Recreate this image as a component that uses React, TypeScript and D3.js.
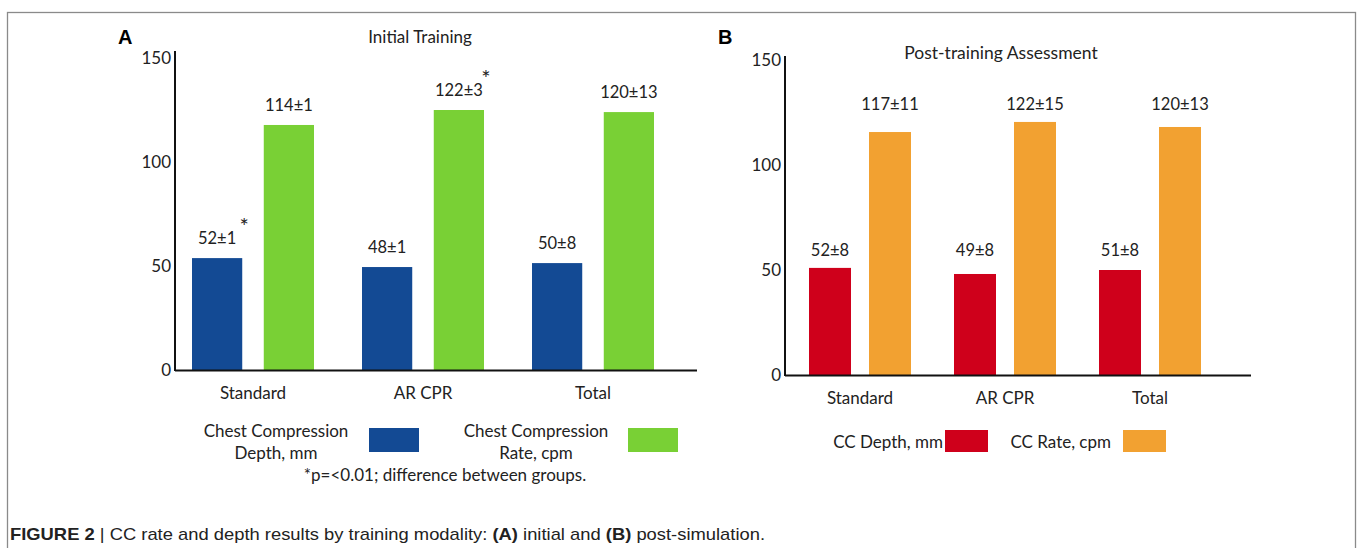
import React, { useEffect, useRef } from 'react';
import * as d3 from 'd3';

const categories = ['Standard', 'AR CPR', 'Total'];
const seriesKeys = ['depth', 'rate'];
const yTicks = [0, 50, 100, 150];

// panel A, initial training (bar heights as drawn)
const initialDepth = [53.8, 49.5, 51.4];
const initialRate = [117.8, 125, 124];
const initialDepthLabels = ['52±1', '48±1', '50±8'];
const initialRateLabels = ['114±1', '122±3', '120±13'];

// panel B, post-training assessment
const postDepth = [51, 48.1, 50];
const postRate = [115.7, 120.5, 118.1];
const postDepthLabels = ['52±8', '49±8', '51±8'];
const postRateLabels = ['117±11', '122±15', '120±13'];

const FONT = 'Lato, "Open Sans", sans-serif';

type Panel = {
	letter: string;
	letterX: number;
	title: string;
	titleX: number;
	titleY: number;
	titleSize: number;
	x0: number;
	step: number;
	inner: [number, number];
	yBase: number;
	yTop: number;
	axisLeft: number;
	axisTop: number;
	axisRight: number;
	catY: number;
	depth: number[];
	rate: number[];
	depthLabels: string[];
	rateLabels: string[];
	colors: string[];
	rowLabels: boolean;
};

function drawPanel(svg: any, p: Panel) {
	const g = svg.append('g');
	const x = d3
		.scaleBand()
		.domain(categories)
		.range([p.x0, p.x0 + p.step * categories.length]);
	const xi = d3.scaleBand().domain(seriesKeys).range(p.inner).paddingInner(0.3);
	const y = d3.scaleLinear().domain([0, 150]).range([p.yBase, p.yTop]);
	const color = d3.scaleOrdinal<string>().domain(seriesKeys).range(p.colors);

	g.append('text')
		.attr('x', p.letterX)
		.attr('y', 44)
		.attr('font-family', 'Arial, "Liberation Sans", sans-serif')
		.attr('font-weight', 'bold')
		.attr('font-size', 20)
		.text(p.letter);

	g.append('text')
		.attr('x', p.titleX)
		.attr('y', p.titleY)
		.attr('text-anchor', 'middle')
		.attr('font-family', FONT)
		.attr('font-size', p.titleSize)
		.attr('fill', '#222')
		.text(p.title);

	const rows = categories.map((c, i) => ({
		cat: c,
		values: [
			{ key: 'depth', value: p.depth[i], label: p.depthLabels[i] },
			{ key: 'rate', value: p.rate[i], label: p.rateLabels[i] },
		],
	}));

	const grp = g
		.selectAll('g.grp')
		.data(rows)
		.enter()
		.append('g')
		.attr('transform', (d: any) => `translate(${x(d.cat)},0)`);

	grp.selectAll('rect')
		.data((d: any) => d.values)
		.enter()
		.append('rect')
		.attr('x', (d: any) => xi(d.key))
		.attr('width', xi.bandwidth())
		.attr('y', (d: any) => y(d.value))
		.attr('height', (d: any) => p.yBase - y(d.value))
		.attr('fill', (d: any) => color(d.key));

	const maxDepth = d3.max(p.depth) as number;
	const maxRate = d3.max(p.rate) as number;
	grp.selectAll('text.val')
		.data((d: any) => d.values)
		.enter()
		.append('text')
		.attr('x', (d: any) => (xi(d.key) as number) + xi.bandwidth() / 2)
		.attr('y', (d: any) => {
			if (p.rowLabels) {
				return y(d.key === 'depth' ? maxDepth : maxRate) - 12;
			}
			return y(d.value) - 14;
		})
		.attr('text-anchor', 'middle')
		.attr('font-family', FONT)
		.attr('font-size', 16.5)
		.attr('fill', '#222')
		.text((d: any) => d.label);

	// axes
	const yAxis = g.append('g').attr('transform', `translate(${p.axisLeft},0)`);
	yAxis.call(d3.axisLeft(y).tickValues(yTicks).tickSize(0).tickPadding(4));
	yAxis.select('.domain').remove();
	yAxis.selectAll('text')
		.attr('font-family', FONT)
		.attr('font-size', 17)
		.attr('fill', '#222');

	g.append('line')
		.attr('x1', p.axisLeft)
		.attr('x2', p.axisLeft)
		.attr('y1', p.axisTop)
		.attr('y2', p.yBase + 1)
		.attr('stroke', '#111')
		.attr('stroke-width', 2);
	g.append('line')
		.attr('x1', p.axisLeft)
		.attr('x2', p.axisRight)
		.attr('y1', p.yBase + 0.5)
		.attr('y2', p.yBase + 0.5)
		.attr('stroke', '#111')
		.attr('stroke-width', 2);

	g.selectAll('text.cat')
		.data(categories)
		.enter()
		.append('text')
		.attr('x', (d: string) => (x(d) as number) + x.bandwidth() / 2)
		.attr('y', p.catY)
		.attr('text-anchor', 'middle')
		.attr('font-family', FONT)
		.attr('font-size', 17)
		.attr('fill', '#222')
		.text((d: string) => d);

	return { x, xi, y };
}

const App = () => {
	const ref = useRef<SVGSVGElement>(null);

	useEffect(() => {
		const svg = d3.select(ref.current);
		svg.selectAll('*').remove();

		svg.append('rect')
			.attr('x', 7.5)
			.attr('y', 12.5)
			.attr('width', 1348)
			.attr('height', 600)
			.attr('fill', 'none')
			.attr('stroke', '#8a8a8a')
			.attr('stroke-width', 1.3);

		const a = drawPanel(svg, {
			letter: 'A',
			letterX: 118,
			title: 'Initial Training',
			titleX: 420,
			titleY: 43,
			titleSize: 17,
			x0: 168,
			step: 170,
			inner: [24, 146],
			yBase: 370,
			yTop: 58,
			axisLeft: 175,
			axisTop: 51,
			axisRight: 697,
			catY: 399,
			depth: initialDepth,
			rate: initialRate,
			depthLabels: initialDepthLabels,
			rateLabels: initialRateLabels,
			colors: ['#134a94', '#79d035'],
			rowLabels: false,
		});

		// significance stars, panel A
		const stars = [
			{ cat: 'Standard', key: 'depth', value: initialDepth[0] },
			{ cat: 'AR CPR', key: 'rate', value: initialRate[1] },
		];
		svg.selectAll('text.star')
			.data(stars)
			.enter()
			.append('text')
			.attr('x', (d) => (a.x(d.cat) as number) + (a.xi(d.key) as number) + a.xi.bandwidth() + 2)
			.attr('y', (d) => a.y(d.value) - 24)
			.attr('text-anchor', 'middle')
			.attr('font-family', FONT)
			.attr('font-size', 22)
			.attr('fill', '#222')
			.text('*');

		drawPanel(svg, {
			letter: 'B',
			letterX: 718,
			title: 'Post-training Assessment',
			titleX: 1001,
			titleY: 59,
			titleSize: 17.5,
			x0: 787.5,
			step: 145,
			inner: [21.5, 123.5],
			yBase: 375,
			yTop: 60,
			axisLeft: 785,
			axisTop: 56,
			axisRight: 1251,
			catY: 404,
			depth: postDepth,
			rate: postRate,
			depthLabels: postDepthLabels,
			rateLabels: postRateLabels,
			colors: ['#cf001b', '#f2a131'],
			rowLabels: true,
		});

		// legend A
		const legA = svg.append('g').attr('font-family', FONT).attr('font-size', 17).attr('fill', '#222');
		const legAItems = [
			{ lines: ['Chest Compression', 'Depth, mm'], cx: 276, box: 369, color: '#134a94' },
			{ lines: ['Chest Compression', 'Rate, cpm'], cx: 536, box: 628, color: '#79d035' },
		];
		legAItems.forEach((it) => {
			it.lines.forEach((t, i) => {
				legA.append('text')
					.attr('x', it.cx)
					.attr('y', 437 + i * 22)
					.attr('text-anchor', 'middle')
					.text(t);
			});
			legA.append('rect')
				.attr('x', it.box)
				.attr('y', 428)
				.attr('width', 50)
				.attr('height', 24)
				.attr('fill', it.color);
		});
		legA.append('text')
			.attr('x', 445)
			.attr('y', 481)
			.attr('text-anchor', 'middle')
			.text('*p=<0.01; difference between groups.');

		// legend B
		const legB = svg.append('g').attr('font-family', FONT).attr('font-size', 17).attr('fill', '#222');
		const legBItems = [
			{ text: 'CC Depth, mm', right: 943, box: 945, color: '#cf001b' },
			{ text: 'CC Rate, cpm', right: 1111, box: 1123, color: '#f2a131' },
		];
		legBItems.forEach((it) => {
			legB.append('text')
				.attr('x', it.right)
				.attr('y', 448)
				.attr('text-anchor', 'end')
				.text(it.text);
			legB.append('rect')
				.attr('x', it.box)
				.attr('y', 430)
				.attr('width', 43)
				.attr('height', 22)
				.attr('fill', it.color);
		});

		// caption
		const cap = svg.append('text')
			.attr('x', 10)
			.attr('y', 540)
			.attr('font-family', '"Liberation Sans", Arial, sans-serif')
			.attr('font-size', 17)
			.attr('fill', '#222')
			.attr('textLength', 755)
			.attr('lengthAdjust', 'spacingAndGlyphs');
		const parts = [
			{ t: 'FIGURE 2', b: true },
			{ t: ' | CC rate and depth results by training modality: ', b: false },
			{ t: '(A)', b: true },
			{ t: ' initial and ', b: false },
			{ t: '(B)', b: true },
			{ t: ' post-simulation.', b: false },
		];
		parts.forEach((pt) => {
			cap.append('tspan')
				.attr('font-weight', pt.b ? 'bold' : 'normal')
				.text(pt.t);
		});
	}, []);

	return (
		<svg
			ref={ref}
			width={1357}
			height={548}
			style={{ position: 'absolute', left: 0, top: 0, background: '#fff' }}
		/>
	);
};

export default App;
